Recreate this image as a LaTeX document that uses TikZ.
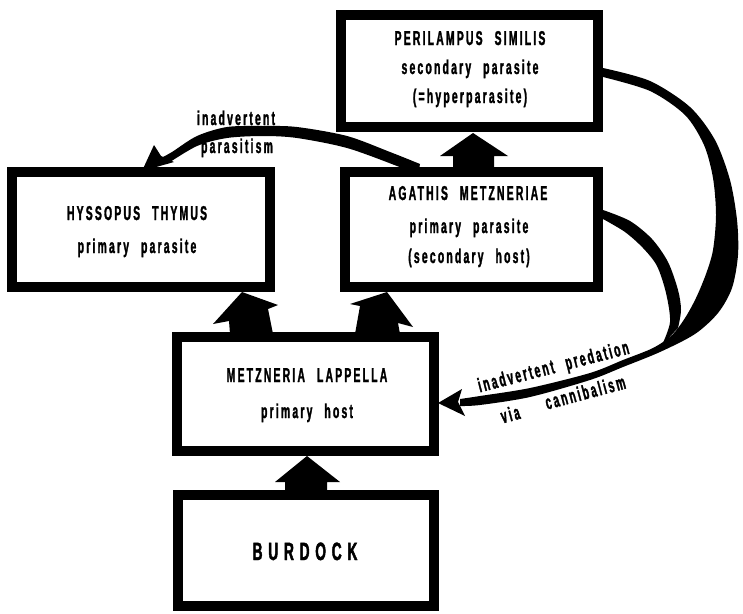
\documentclass[tikz,border=0pt]{standalone}
\usepackage{fontspec}
\setmainfont{Liberation Sans}[UprightFont={* Bold},FakeStretch=0.52,LetterSpace=11,FakeBold=1.4]
\newfontfamily\burfont{Liberation Sans}[UprightFont={* Bold},FakeStretch=0.55,LetterSpace=23,FakeBold=1.8]
\newcommand\wsp{\hspace{12pt}}
\begin{document}
\begin{tikzpicture}[x=1pt,y=-1pt]
\tikzset{
  box/.style={draw,line width=10pt,inner sep=0pt},
  lbl/.style={anchor=base,inner sep=0pt,font=\fontsize{20}{20}\selectfont},
  blk/.style={fill=black,draw=none}
}
\useasboundingbox (0,0) rectangle (743,613);
% boxes
\node[box,minimum width=257pt,minimum height=112pt] (peri) at (469.5,71) {};
\node[box,minimum width=258pt,minimum height=115pt] (hyss) at (141,229.5) {};
\node[box,minimum width=253pt,minimum height=115pt] (agat) at (471.5,229.5) {};
\node[box,minimum width=257pt,minimum height=114pt] (metz) at (305.5,394) {};
\node[box,minimum width=256pt,minimum height=111pt] (burd) at (306,550.5) {};
% texts
\node[lbl] (p1) at (470,45) {PERILAMPUS\wsp SIMILIS};
\node[lbl] (p2) at (470,74) {secondary\wsp parasite};
\node[lbl] (p3) at (470,103) {(=hyperparasite)};
\node[lbl] (h1) at (137,220) {HYSSOPUS\wsp THYMUS};
\node[lbl] (h2) at (137,253) {primary\wsp parasite};
\node[lbl] (a1) at (468,200) {AGATHIS\wsp METZNERIAE};
\node[lbl] (a2) at (469,233) {primary\wsp parasite};
\node[lbl] (a3) at (469,263) {(secondary\wsp host)};
\node[lbl] (m1) at (307,382) {METZNERIA\wsp LAPPELLA};
\node[lbl] (m2) at (307,418) {primary\wsp host};
\node[lbl,font=\burfont\fontsize{25}{25}\selectfont] (b1) at (305,560) {BURDOCK};
% edge labels
\node[lbl] (l1) at (236,125) {inadvertent};
\node[lbl] (l2) at (237,153) {parasitism};
\node[lbl,rotate=14.5] (l3) at (555,373) {inadvertent\wsp predation};
\node[lbl,rotate=15] (l4) at (512,421) {via};
\node[lbl,rotate=15] (l5) at (587,399) {cannibalism};
% block arrows
\fill[blk] (285,492) -- (285,482) -- (275,482) -- (307,456) -- (340,482) -- (327,482) -- (327,492) -- cycle;
\fill[blk] (230,334) -- (229,321) -- (213,324) -- (242,292) -- (278,305) -- (268,309) -- (273,334) -- cycle;
\fill[blk] (355,334) -- (360,306) -- (350,304) -- (387,292) -- (413,327) -- (398,323) -- (400,334) -- cycle;
\fill[blk] (453,168) -- (453,156) -- (440,156) -- (473,133) -- (508,156) -- (494,156) -- (494,168) -- cycle;
% inadvertent parasitism arrow
\fill[blk] plot[smooth] coordinates {(420,164) (390,152) (347,136) (297,127) (263,126) (227,127) (197,136) (172,152) (161,158)}
  -- plot[smooth] coordinates {(167,164) (197,146) (227,138) (263,136) (297,138) (347,148) (397,166) (418,175)} -- cycle;
\fill[blk] (142,171) -- (154,145) -- (161,156) -- (174,162) -- cycle;
% big predation arrow from Perilampus
\fill[blk] plot[smooth] coordinates {(603,68) (650,81) (690,107) (715,140) (730,180) (737,220) (738,255) (732,288) (718,313) (695,334) (660,352) (623,367) (590,380) (530,397) (480,405) (460,406)}
  -- plot[smooth] coordinates {(460,399) (480,396) (530,388) (590,373) (623,360) (653,348) (672,335) (685,318) (696,298) (706,274) (713,250) (716,215) (713,178) (704,145) (685,115) (650,91) (603,77)} -- cycle;
% branch from Agathis
\fill[blk] plot[smooth] coordinates {(603,210) (630,221) (652,239) (668,262) (678,290) (681,310) (678,328)}
  -- plot[smooth] coordinates {(662,345) (670,322) (666,293) (657,266) (643,248) (625,232) (603,219)} -- cycle;
% head
\fill[blk] (438,403) -- (462,389) -- (458,402) -- (465,416) -- cycle;
\end{tikzpicture}
\end{document}
